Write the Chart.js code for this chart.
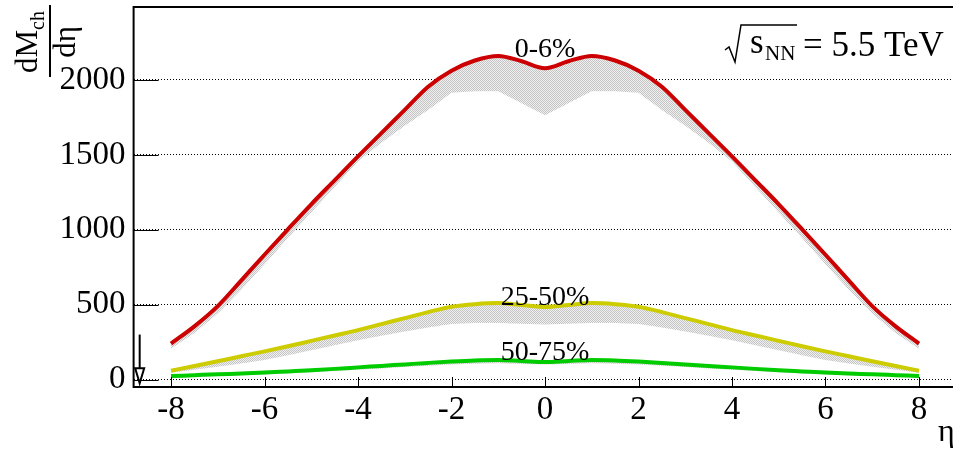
<!DOCTYPE html>
<html>
<head>
<meta charset="utf-8">
<script src="https://cdn.jsdelivr.net/npm/chart.js@4"></script>
<style>
  html, body { margin: 0; padding: 0; overflow: hidden; background: #fff; width: 953px; height: 452px; }
  #wrap { position: relative; width: 970px; height: 452px; }
</style>
</head>
<body>
<div id="wrap"><canvas id="c" width="970" height="452"></canvas></div>
<script>
// Pseudorapidity grid
const eta = [-8, -7.5, -7, -6.5, -6, -5.5, -5, -4.5, -4, -3.5, -3, -2.5, -2, -1.5, -1, -0.5,
             0, 0.5, 1, 1.5, 2, 2.5, 3, 3.5, 4, 4.5, 5, 5.5, 6, 6.5, 7, 7.5, 8];

// dM_ch/deta, 0-6% centrality (upper curve and lower edge of its band)
const central = [240, 355, 490, 660, 833, 1003, 1170, 1330, 1490, 1645, 1800, 1955, 2062, 2130, 2160, 2125,
                 2078, 2125, 2160, 2130, 2062, 1955, 1800, 1645, 1490, 1330, 1170, 1003, 833, 660, 490, 355, 240];
const centralLow = [205, 310, 440, 600, 770, 945, 1115, 1285, 1455, 1580, 1695, 1800, 1915, 1925, 1925, 1845,
                    1765, 1845, 1925, 1925, 1915, 1800, 1695, 1580, 1455, 1285, 1115, 945, 770, 600, 440, 310, 205];

// 25-50% centrality
const midCentral = [59, 90, 122, 155, 188, 222, 258, 294, 330, 370, 410, 450, 486, 503, 510, 497,
                    484, 497, 510, 503, 486, 450, 410, 370, 330, 294, 258, 222, 188, 155, 122, 90, 59];
const midCentralLow = [45, 65, 85, 107, 130, 162, 195, 228, 262, 292, 320, 348, 370, 378, 378, 372,
                       367, 372, 378, 378, 370, 348, 320, 292, 262, 228, 195, 162, 130, 107, 85, 65, 45];

// 50-75% centrality
const peripheral = [23, 29, 35, 40, 46, 54, 62, 71, 81, 91, 101, 111, 120, 127, 130, 124,
                    117, 124, 130, 127, 120, 111, 101, 91, 81, 71, 62, 54, 46, 40, 35, 29, 23];
const peripheralLow = [12, 18, 24, 29, 34, 41, 48, 56, 65, 74, 83, 92, 100, 106, 108, 104,
                       100, 104, 108, 106, 100, 92, 83, 74, 65, 56, 48, 41, 34, 29, 24, 18, 12];

// Axis ticks
const xTicks = [-8, -6, -4, -2, 0, 2, 4, 6, 8];
const yTicks = [0, 500, 1000, 1500, 2000];

// Centrality class labels: text, eta and value of baseline
const classNames = ['0-6%', '25-50%', '50-75%'];
const classEta = [0, 0, 0];
const classValue = [2153, 497, 130];

// Arrow marker near the left edge: eta, start value, tip value
const arrowEta = -8.67;
const arrowFrom = 300;
const arrowTo = -25;

const SERIF = '"Liberation Serif", "Times New Roman", serif';

function pts(vals) { return eta.map((e, i) => ({ x: e, y: vals[i] })); }

// Fine grey mesh used for the model bands
function meshPattern() {
  const p = document.createElement('canvas');
  p.width = 2; p.height = 2;
  const g = p.getContext('2d');
  g.fillStyle = '#c4c4c4';
  g.fillRect(0, 0, 1, 1);
  g.fillRect(1, 1, 1, 1);
  g.fillStyle = '#f0f0f0';
  g.fillRect(1, 0, 1, 1);
  g.fillRect(0, 1, 1, 1);
  return g.createPattern(p, 'repeat');
}
const mesh = meshPattern();

function lineSet(label, vals, color) {
  return {
    label, data: pts(vals), borderColor: color, borderWidth: 4,
    pointRadius: 0, fill: false, cubicInterpolationMode: 'monotone',
    borderCapStyle: 'butt', borderJoinStyle: 'round', order: 1
  };
}
function bandSet(label, vals, target) {
  return {
    label, data: pts(vals), borderWidth: 0, borderColor: 'rgba(0,0,0,0)',
    pointRadius: 0, tension: 0, fill: target, backgroundColor: mesh, order: 5
  };
}

const decorations = {
  id: 'decorations',
  afterDatasetsDraw(chart) {
    const { ctx, chartArea: a, scales: { x, y } } = chart;
    ctx.save();
    ctx.strokeStyle = '#000';
    ctx.fillStyle = '#000';

    // tick marks pointing into the frame
    ctx.lineWidth = 1;
    y.ticks.forEach(t => {
      const py = Math.round(y.getPixelForValue(t.value)) + 0.5;
      ctx.beginPath(); ctx.moveTo(a.left, py); ctx.lineTo(a.left + 25, py); ctx.stroke();
    });
    x.ticks.forEach(t => {
      const px = Math.round(x.getPixelForValue(t.value)) + 0.5;
      ctx.beginPath(); ctx.moveTo(px, a.bottom); ctx.lineTo(px, a.bottom - 10); ctx.stroke();
    });

    // frame
    ctx.lineWidth = 2;
    ctx.beginPath();
    ctx.moveTo(a.right + 4, a.top); ctx.lineTo(a.left, a.top);
    ctx.lineTo(a.left, a.bottom); ctx.lineTo(a.right + 4, a.bottom);
    ctx.stroke();

    // arrow
    const ax = x.getPixelForValue(arrowEta);
    const ay0 = y.getPixelForValue(arrowFrom);
    const ay1 = y.getPixelForValue(arrowTo);
    ctx.lineWidth = 2;
    ctx.beginPath(); ctx.moveTo(ax, ay0); ctx.lineTo(ax, ay1 - 15); ctx.stroke();
    ctx.beginPath();
    ctx.moveTo(ax - 4.5, ay1 - 15); ctx.lineTo(ax + 4.5, ay1 - 15); ctx.lineTo(ax, ay1); ctx.closePath();
    ctx.stroke();

    // centrality labels
    ctx.font = '28px ' + SERIF;
    ctx.textAlign = 'center';
    ctx.textBaseline = 'alphabetic';
    classNames.forEach((n, i) => {
      ctx.fillText(n, x.getPixelForValue(classEta[i]), y.getPixelForValue(classValue[i]));
    });

    // collision energy
    ctx.lineWidth = 1.5;
    ctx.beginPath();
    ctx.moveTo(725, 50); ctx.lineTo(729, 47); ctx.lineTo(735, 62); ctx.lineTo(741, 25); ctx.lineTo(797, 25);
    ctx.stroke();
    ctx.textAlign = 'left';
    ctx.font = '35px ' + SERIF;
    ctx.fillText('s', 750, 53);
    ctx.font = '21px ' + SERIF;
    ctx.fillText('NN', 765, 60);
    ctx.font = '35px ' + SERIF;
    ctx.fillText('= 5.5 TeV', 803, 55.5);

    // x-axis title
    ctx.font = '32px ' + SERIF;
    ctx.fillText('\u03B7', 938, 441);

    // y-axis title, rotated fraction dM_ch / d eta
    ctx.save();
    ctx.rotate(-Math.PI / 2);
    const centre = 42;
    ctx.font = '31px ' + SERIF;
    const wdM = ctx.measureText('dM').width;
    ctx.font = '20px ' + SERIF;
    const wch = ctx.measureText('ch').width;
    const numStart = -(centre + (wdM + wch) / 2);
    ctx.font = '31px ' + SERIF;
    ctx.fillText('dM', numStart, 37);
    ctx.font = '20px ' + SERIF;
    ctx.fillText('ch', numStart + wdM, 44);
    ctx.font = '31px ' + SERIF;
    const wde = ctx.measureText('d\u03B7').width;
    ctx.fillText('d\u03B7', -(centre + wde / 2), 75);
    ctx.restore();
    ctx.lineWidth = 2;
    ctx.beginPath(); ctx.moveTo(50, 5); ctx.lineTo(50, 77); ctx.stroke();

    ctx.restore();
  }
};

new Chart(document.getElementById('c'), {
  type: 'line',
  data: {
    datasets: [
      lineSet('0-6%', central, '#cc0000'),
      lineSet('25-50%', midCentral, '#cccc00'),
      lineSet('50-75%', peripheral, '#00cc00'),
      bandSet('0-6% band', centralLow, 0),
      bandSet('25-50% band', midCentralLow, 1),
      bandSet('50-75% band', peripheralLow, 2)
    ]
  },
  options: {
    responsive: false,
    animation: false,
    layout: { padding: { top: 7, right: 13.6, left: 0, bottom: 0 } },
    plugins: { legend: { display: false }, tooltip: { enabled: false } },
    scales: {
      x: {
        type: 'linear', min: -8.8, max: 8.8,
        afterBuildTicks: s => { s.ticks = xTicks.map(v => ({ value: v })); },
        afterFit: s => { s.height = 65; s.paddingLeft = 0; s.paddingRight = 0; },
        grid: { display: false, drawTicks: false },
        border: { display: false },
        ticks: { font: { family: SERIF, size: 33 }, color: '#000', padding: 4,
                 maxRotation: 0, autoSkip: false, callback: v => String(v) }
      },
      y: {
        min: -50, max: 2487,
        afterBuildTicks: s => { s.ticks = yTicks.map(v => ({ value: v })); },
        afterFit: s => { s.width = 133.6; s.paddingTop = 0; s.paddingBottom = 0; },
        grid: { color: '#000', lineWidth: 1, drawTicks: false },
        border: { display: false, dash: [1, 2] },
        ticks: { font: { family: SERIF, size: 33 }, color: '#000', padding: 8,
                 autoSkip: false, callback: v => String(v) }
      }
    }
  },
  plugins: [decorations]
});
</script>
</body>
</html>
